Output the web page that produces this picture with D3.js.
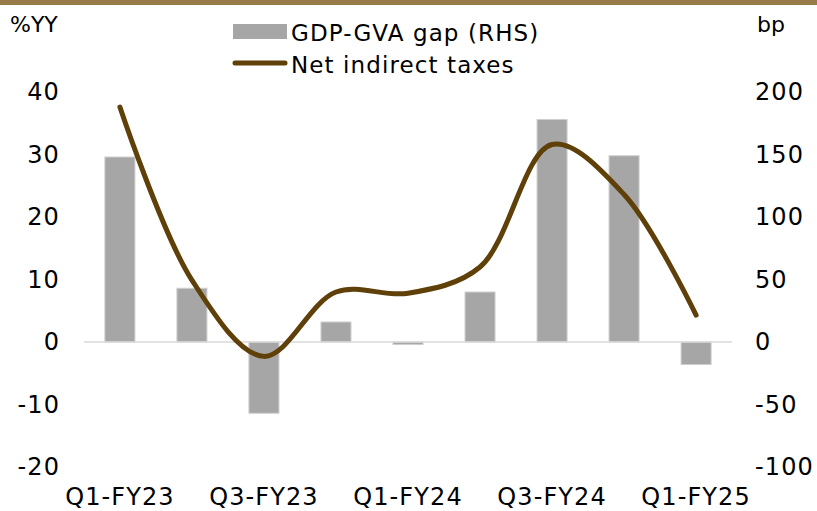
<!DOCTYPE html>
<html>
<head>
<meta charset="utf-8">
<script src="https://cdn.jsdelivr.net/npm/d3@7"></script>
<style>
  body { margin: 0; background: #fff; }
  text { font-family: "DejaVu Sans", Verdana, sans-serif; fill: #000; }
</style>
</head>
<body>
<div id="chart"></div>
<script>
// data
const quarters = ["Q1-FY23", "Q2-FY23", "Q3-FY23", "Q4-FY23", "Q1-FY24", "Q2-FY24", "Q3-FY24", "Q4-FY24", "Q1-FY25"];
const gapBp = [148, 43, -57, 16, -2, 40, 178, 149, -18];          // GDP-GVA gap (RHS, bp)
const netTaxes = [37.6, 9.9, -2.3, 8.0, 7.8, 12.0, 31.6, 23.6, 4.3]; // Net indirect taxes (%YY)
const leftTicks = [-20, -10, 0, 10, 20, 30, 40];
const rightTicks = [-100, -50, 0, 50, 100, 150, 200];
const xLabels = ["Q1-FY23", "Q3-FY23", "Q1-FY24", "Q3-FY24", "Q1-FY25"];

const WIDTH = 817, HEIGHT = 511;
const PLOT_LEFT = 84, PLOT_RIGHT = 732, PLOT_TOP = 92, PLOT_BOTTOM = 467;
const BAR_COLOR = "#a6a6a6", LINE_COLOR = "#5e4008", GOLD = "#977b48";

const svg = d3.select("#chart").append("svg")
    .attr("width", WIDTH)
    .attr("height", HEIGHT);

// gold rule at the top
svg.append("rect")
    .attr("x", 0).attr("y", 0)
    .attr("width", WIDTH).attr("height", 5)
    .attr("fill", GOLD);

const x = d3.scaleBand()
    .domain(quarters)
    .range([PLOT_LEFT, PLOT_RIGHT])
    .paddingInner(0.583)
    .paddingOuter(0.29);

const yLeft = d3.scaleLinear().domain([-20, 40]).range([PLOT_BOTTOM, PLOT_TOP]);
const yRight = d3.scaleLinear().domain([-100, 200]).range([PLOT_BOTTOM, PLOT_TOP]);

// bars (RHS)
svg.append("g")
    .selectAll("rect")
    .data(gapBp)
    .join("rect")
    .attr("x", (d, i) => x(quarters[i]))
    .attr("width", x.bandwidth())
    .attr("y", d => yRight(Math.max(0, d)))
    .attr("height", d => Math.abs(yRight(d) - yRight(0)))
    .attr("fill", BAR_COLOR)
    .attr("stroke", "#cfcfcf")
    .attr("stroke-width", 1);

// zero line
svg.append("line")
    .attr("x1", PLOT_LEFT).attr("x2", PLOT_RIGHT)
    .attr("y1", yLeft(0)).attr("y2", yLeft(0))
    .attr("stroke", "#d9d9d9")
    .attr("stroke-width", 1.5);

// smoothed line (LHS)
const lineGen = d3.line()
    .x((d, i) => x(quarters[i]) + x.bandwidth() / 2)
    .y(d => yLeft(d))
    .curve(d3.curveCatmullRom.alpha(0.5));

svg.append("path")
    .datum(netTaxes)
    .attr("d", lineGen)
    .attr("fill", "none")
    .attr("stroke", LINE_COLOR)
    .attr("stroke-width", 5)
    .attr("stroke-linecap", "round");

// axes (plain hyphen for negatives, like the original)
const fmt = d => String(d);
const leftAxis = svg.append("g")
    .attr("transform", "translate(60,0)")
    .call(d3.axisLeft(yLeft).tickValues(leftTicks).tickFormat(fmt).tickSize(0).tickPadding(0));
const rightAxis = svg.append("g")
    .attr("transform", "translate(755,0)")
    .call(d3.axisRight(yRight).tickValues(rightTicks).tickFormat(fmt).tickSize(0).tickPadding(0));
const bottomAxis = svg.append("g")
    .attr("transform", "translate(0,488)")
    .call(d3.axisBottom(x).tickValues(xLabels).tickSize(0).tickPadding(0));

[leftAxis, rightAxis, bottomAxis].forEach(g => {
    g.select(".domain").remove();
    g.selectAll("text")
        .style("font-family", "'DejaVu Sans', Verdana, sans-serif")
        .style("font-size", "24px")
        .style("letter-spacing", "1.1px")
        .attr("fill", "#000");
});

// axis titles
svg.append("text").attr("x", 10).attr("y", 32)
    .style("font-size", "22px").text("%YY");
svg.append("text").attr("x", 757).attr("y", 32)
    .style("font-size", "22px").text("bp");

// legend
const legend = svg.append("g");
legend.append("rect")
    .attr("x", 233).attr("y", 24)
    .attr("width", 54).attr("height", 15)
    .attr("fill", BAR_COLOR);
legend.append("text").attr("x", 291).attr("y", 41)
    .style("font-size", "23px").style("letter-spacing", "1.1px")
    .text("GDP-GVA gap (RHS)");
legend.append("line")
    .attr("x1", 235).attr("x2", 285)
    .attr("y1", 63).attr("y2", 63)
    .attr("stroke", LINE_COLOR)
    .attr("stroke-width", 5)
    .attr("stroke-linecap", "round");
legend.append("text").attr("x", 291).attr("y", 73)
    .style("font-size", "23px").style("letter-spacing", "1.1px")
    .text("Net indirect taxes");
</script>
</body>
</html>
